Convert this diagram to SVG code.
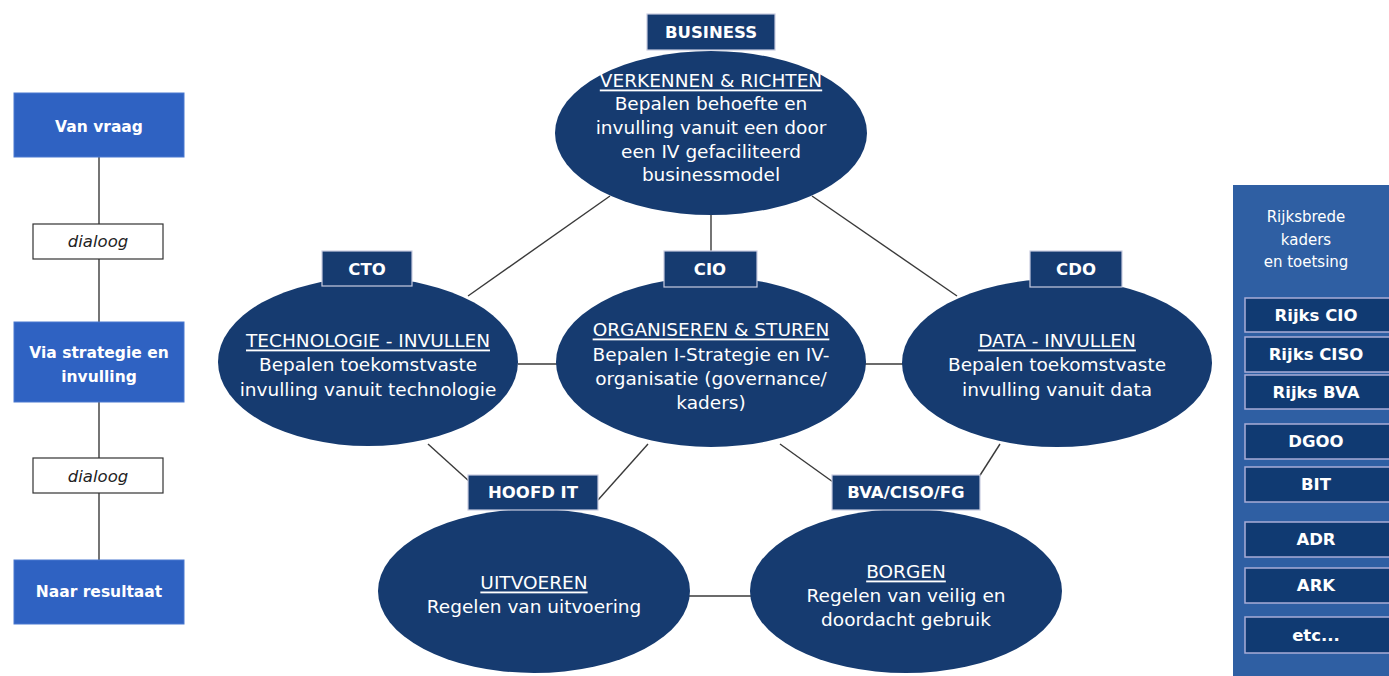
<svg xmlns="http://www.w3.org/2000/svg" width="1389" height="676" viewBox="0 0 1389 676">
  <style>
    .ell { fill: #163b70; }
    .hdr { fill: #163b70; stroke: #c9cce0; stroke-width: 1.2; }
    .hdr-t { font-family: "DejaVu Sans", Verdana, sans-serif; font-size: 16.5px; font-weight: bold; fill: #ffffff; text-anchor: middle; dominant-baseline: central; }
    .body-t { font-family: "DejaVu Sans", Verdana, sans-serif; font-size: 18.5px; fill: #ffffff; text-anchor: middle; dominant-baseline: central; }
    .ttl { text-decoration: underline; }
    .link { stroke: #3a3a3a; stroke-width: 1.4; fill: none; }
    .step { fill: #2f62c2; stroke: #4a78d0; stroke-width: 1; }
    .step-t { font-family: "DejaVu Sans", Verdana, sans-serif; font-size: 15.5px; font-weight: bold; fill: #ffffff; text-anchor: middle; dominant-baseline: central; }
    .dlg { fill: #ffffff; stroke: #333333; stroke-width: 1.2; }
    .dlg-t { font-family: "DejaVu Sans", Verdana, sans-serif; font-size: 16.5px; font-style: italic; fill: #222222; text-anchor: middle; dominant-baseline: central; }
    .panel { fill: #2f5fa3; }
    .panel-t { font-family: "DejaVu Sans", Verdana, sans-serif; font-size: 15px; fill: #ffffff; text-anchor: middle; dominant-baseline: central; }
    .item { fill: #103a72; stroke: #a9add8; stroke-width: 1.5; }
    .item-t { font-family: "DejaVu Sans", Verdana, sans-serif; font-size: 16.5px; font-weight: bold; fill: #ffffff; text-anchor: middle; dominant-baseline: central; }
  </style>

  <rect width="1389" height="676" fill="#ffffff"/>

  <!-- left process column -->
  <g id="process-line">
    <line class="link" x1="99" y1="157" x2="99" y2="560"/>
  </g>
  <g id="van-vraag">
    <rect class="step" x="14" y="93" width="170" height="64"/>
    <text class="step-t" x="99" y="127">Van vraag</text>
  </g>
  <g id="dialoog-1">
    <rect class="dlg" x="33" y="224" width="130" height="35"/>
    <text class="dlg-t" x="98" y="241">dialoog</text>
  </g>
  <g id="via-strategie">
    <rect class="step" x="14" y="322" width="170" height="80"/>
    <text class="step-t" x="99" y="353">Via strategie en</text>
    <text class="step-t" x="99" y="377">invulling</text>
  </g>
  <g id="dialoog-2">
    <rect class="dlg" x="33" y="458" width="130" height="35"/>
    <text class="dlg-t" x="98" y="476">dialoog</text>
  </g>
  <g id="naar-resultaat">
    <rect class="step" x="14" y="560" width="170" height="64"/>
    <text class="step-t" x="99" y="592">Naar resultaat</text>
  </g>

  <!-- connectors between the role ellipses -->
  <g id="connectors">
    <line class="link" x1="610" y1="196" x2="468" y2="296"/>
    <line class="link" x1="711" y1="214" x2="711" y2="251"/>
    <line class="link" x1="812" y1="196" x2="957" y2="296"/>
    <line class="link" x1="518" y1="364" x2="557" y2="364"/>
    <line class="link" x1="864" y1="364" x2="905" y2="364"/>
    <line class="link" x1="428" y1="444" x2="470" y2="482"/>
    <line class="link" x1="648" y1="444" x2="598" y2="500"/>
    <line class="link" x1="780" y1="444" x2="833" y2="482"/>
    <line class="link" x1="1000" y1="444" x2="977" y2="480"/>
    <line class="link" x1="688" y1="596" x2="752" y2="596"/>
  </g>

  <g id="business">
    <ellipse class="ell" cx="711" cy="133" rx="156" ry="82"/>
    <rect class="hdr" x="647" y="14" width="128" height="36"/>
    <text class="hdr-t" x="711" y="32">BUSINESS</text>
    <text class="body-t ttl" x="711" y="80">VERKENNEN &amp; RICHTEN</text>
    <text class="body-t" x="711" y="103">Bepalen behoefte en</text>
    <text class="body-t" x="711" y="127">invulling vanuit een door</text>
    <text class="body-t" x="711" y="151">een IV gefaciliteerd</text>
    <text class="body-t" x="711" y="174">businessmodel</text>
  </g>

  <g id="cto">
    <ellipse class="ell" cx="368" cy="362" rx="150" ry="84"/>
    <rect class="hdr" x="322" y="251" width="90" height="35"/>
    <text class="hdr-t" x="367" y="269">CTO</text>
    <text class="body-t ttl" x="368" y="340">TECHNOLOGIE - INVULLEN</text>
    <text class="body-t" x="368" y="364">Bepalen toekomstvaste</text>
    <text class="body-t" x="368" y="389">invulling vanuit technologie</text>
  </g>

  <g id="cio">
    <ellipse class="ell" cx="711" cy="362" rx="155" ry="85"/>
    <rect class="hdr" x="664" y="251" width="93" height="36"/>
    <text class="hdr-t" x="710" y="269">CIO</text>
    <text class="body-t ttl" x="711" y="329">ORGANISEREN &amp; STUREN</text>
    <text class="body-t" x="711" y="354">Bepalen I-Strategie en IV-</text>
    <text class="body-t" x="711" y="378">organisatie (governance/</text>
    <text class="body-t" x="711" y="402">kaders)</text>
  </g>

  <g id="cdo">
    <ellipse class="ell" cx="1057" cy="363" rx="155" ry="84"/>
    <rect class="hdr" x="1030" y="251" width="92" height="36"/>
    <text class="hdr-t" x="1076" y="269">CDO</text>
    <text class="body-t ttl" x="1057" y="340">DATA - INVULLEN</text>
    <text class="body-t" x="1057" y="364">Bepalen toekomstvaste</text>
    <text class="body-t" x="1057" y="389">invulling vanuit data</text>
  </g>

  <g id="hoofd-it">
    <ellipse class="ell" cx="534" cy="591" rx="156" ry="82"/>
    <rect class="hdr" x="468" y="475" width="130" height="35"/>
    <text class="hdr-t" x="533" y="492">HOOFD IT</text>
    <text class="body-t ttl" x="534" y="582">UITVOEREN</text>
    <text class="body-t" x="534" y="606">Regelen van uitvoering</text>
  </g>

  <g id="bva-ciso-fg">
    <ellipse class="ell" cx="906" cy="591" rx="156" ry="82"/>
    <rect class="hdr" x="832" y="475" width="148" height="35"/>
    <text class="hdr-t" x="906" y="492">BVA/CISO/FG</text>
    <text class="body-t ttl" x="906" y="571">BORGEN</text>
    <text class="body-t" x="906" y="595">Regelen van veilig en</text>
    <text class="body-t" x="906" y="619">doordacht gebruik</text>
  </g>

  <!-- right panel: government-wide frameworks -->
  <g id="rijksbrede-kaders">
    <rect class="panel" x="1233" y="185" width="160" height="495"/>
    <text class="panel-t" x="1306" y="217">Rijksbrede</text>
    <text class="panel-t" x="1306" y="240">kaders</text>
    <text class="panel-t" x="1306" y="262">en toetsing</text>
  </g>
  <g id="rijks-cio">
    <rect class="item" x="1245" y="298" width="150" height="34"/>
    <text class="item-t" x="1316" y="315">Rijks CIO</text>
  </g>
  <g id="rijks-ciso">
    <rect class="item" x="1245" y="337" width="150" height="35"/>
    <text class="item-t" x="1316" y="354">Rijks CISO</text>
  </g>
  <g id="rijks-bva">
    <rect class="item" x="1245" y="375" width="150" height="34"/>
    <text class="item-t" x="1316" y="392">Rijks BVA</text>
  </g>
  <g id="dgoo">
    <rect class="item" x="1245" y="424" width="150" height="35"/>
    <text class="item-t" x="1316" y="441">DGOO</text>
  </g>
  <g id="bit">
    <rect class="item" x="1245" y="467" width="150" height="35"/>
    <text class="item-t" x="1316" y="484">BIT</text>
  </g>
  <g id="adr">
    <rect class="item" x="1245" y="522" width="150" height="35"/>
    <text class="item-t" x="1316" y="539">ADR</text>
  </g>
  <g id="ark">
    <rect class="item" x="1245" y="568" width="150" height="35"/>
    <text class="item-t" x="1316" y="585">ARK</text>
  </g>
  <g id="etc">
    <rect class="item" x="1245" y="617" width="150" height="36"/>
    <text class="item-t" x="1316" y="635">etc...</text>
  </g>
</svg>
